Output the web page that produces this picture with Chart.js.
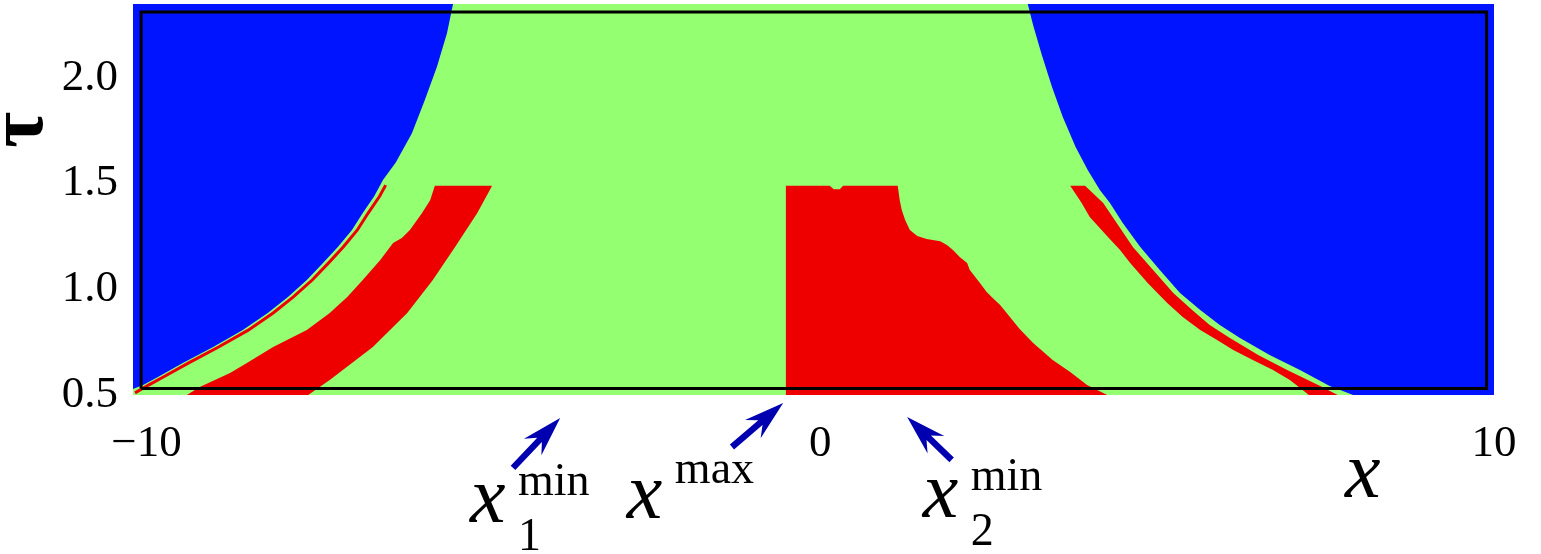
<!DOCTYPE html>
<html>
<head>
<meta charset="utf-8">
<title>Region plot tau vs x</title>
<script src="https://cdn.jsdelivr.net/npm/chart.js@4.4.1/dist/chart.umd.min.js"></script>
<style>
    html, body { margin: 0; padding: 0; background: #fff; overflow: hidden; }
    canvas { display: block; }
</style>
</head>
<body>
<canvas id="regionChart" width="1541" height="554"></canvas>
<script>
// Axis ranges and ticks
const xRange = [-10.2, 10];
const yRange = [0.5, 2.35];
const xTicks = [-10, 0, 10];
const yTicks = [0.5, 1.0, 1.5, 2.0];

// Left blue region: boundary curve, bottom-left to top
const leftBlueX = [-10.20, -10.05, -9.83, -9.46, -9.01, -8.57, -8.20, -7.90, -7.62, -7.38, -7.16, -6.95, -6.79, -6.62, -6.49, -6.30, -6.06, -5.87, -5.69, -5.54, -5.45];
const leftBlueY = [0.528, 0.547, 0.585, 0.651, 0.727, 0.807, 0.888, 0.964, 1.044, 1.124, 1.200, 1.281, 1.361, 1.440, 1.517, 1.600, 1.739, 1.895, 2.052, 2.212, 2.350];

// Right blue region: boundary curve, top to bottom-right
const rightBlueX = [3.08, 3.16, 3.29, 3.44, 3.60, 3.79, 3.97, 4.15, 4.30, 4.49, 4.75, 5.04, 5.34, 5.64, 5.93, 6.23, 6.67, 7.12, 7.56, 7.91];
const rightBlueY = [2.350, 2.250, 2.108, 1.957, 1.815, 1.673, 1.564, 1.470, 1.408, 1.314, 1.200, 1.091, 0.983, 0.902, 0.831, 0.770, 0.689, 0.618, 0.543, 0.500];

// Thin red line along the left blue boundary
const leftLineX = [-10.17, -9.97, -9.75, -9.38, -8.93, -8.49, -8.12, -7.82, -7.54, -7.30, -7.08, -6.87, -6.71, -6.54, -6.45];
const leftLineY = [0.510, 0.547, 0.585, 0.651, 0.727, 0.807, 0.888, 0.964, 1.044, 1.124, 1.200, 1.281, 1.361, 1.440, 1.493];

// Left red band (outline)
const leftBandX = [-9.40, -9.21, -8.76, -8.51, -8.12, -7.62, -7.28, -7.02, -6.79, -6.53, -6.34, -6.21, -6.09, -5.91, -5.79, -5.72, -4.87, -5.09, -5.42, -5.75, -6.13, -6.64, -7.28, -7.60];
const leftBandY = [0.500, 0.538, 0.604, 0.651, 0.727, 0.807, 0.888, 0.964, 1.044, 1.139, 1.219, 1.243, 1.281, 1.361, 1.422, 1.490, 1.490, 1.361, 1.200, 1.044, 0.888, 0.727, 0.571, 0.500];

// Central red block (outline)
const midBandX = [-0.51, -0.51, 0.14, 0.20, 0.29, 0.34, 1.15, 1.18, 1.21, 1.26, 1.33, 1.44, 1.58, 1.67, 1.78, 1.88, 1.97, 2.07, 2.18, 2.22, 2.37, 2.47, 2.56, 2.67, 2.96, 3.16, 3.45, 3.71, 3.96, 4.26];
const midBandY = [0.500, 1.490, 1.490, 1.474, 1.474, 1.490, 1.490, 1.422, 1.375, 1.328, 1.281, 1.252, 1.238, 1.233, 1.228, 1.210, 1.186, 1.153, 1.124, 1.091, 1.030, 0.987, 0.959, 0.926, 0.812, 0.746, 0.666, 0.609, 0.547, 0.500];

// Right red band (outline)
const rightBandX = [7.27, 7.16, 6.97, 6.72, 6.42, 6.13, 5.89, 5.64, 5.38, 5.15, 4.86, 4.60, 4.45, 4.27, 4.00, 3.88, 3.71, 3.93, 4.20, 4.40, 4.64, 4.94, 5.24, 5.52, 5.78, 6.08, 6.50, 6.93, 7.42, 7.71];
const rightBandY = [0.495, 0.524, 0.571, 0.618, 0.666, 0.713, 0.760, 0.807, 0.869, 0.935, 1.030, 1.124, 1.186, 1.247, 1.342, 1.408, 1.490, 1.490, 1.408, 1.314, 1.200, 1.091, 0.983, 0.902, 0.831, 0.770, 0.689, 0.618, 0.543, 0.495];

// Inner frame
const frameX = [-10.08, 9.89, 9.89, -10.08, -10.08];
const frameY = [0.531, 0.531, 2.312, 2.312, 0.531];

// Arrows marking the special points (tail -> tip)
const arrowTailX = [-4.56, -1.31, 1.95];
const arrowTailY = [0.155, 0.254, 0.193];
const arrowTipX = [-3.86, -0.55, 1.29];
const arrowTipY = [0.391, 0.462, 0.396];

// Labels for the arrows
const labelX = [-5.20, -2.87, 1.52];
const labelSup = ['min', 'max', 'min'];
const labelSub = ['1', '', '2'];

const GREEN = '#94ff70';
const BLUE = '#0014ff';
const RED = '#ee0000';
const ARROW = '#0000b0';
const SERIF = '"Liberation Serif", "Times New Roman", serif';

function pts(xs, ys) {
    return xs.map((x, i) => ({ x: x, y: ys[i] }));
}

function region(data, color, order) {
    return {
        data: data,
        showLine: true,
        borderWidth: 0,
        backgroundColor: color,
        fill: 'shape',
        pointRadius: 0,
        order: order
    };
}

const leftBlue = [{ x: xRange[0] - 0.5, y: yRange[1] + 0.2 }, { x: xRange[0] - 0.5, y: leftBlueY[0] }]
    .concat(pts(leftBlueX, leftBlueY), [{ x: leftBlueX[leftBlueX.length - 1], y: yRange[1] + 0.2 }]);
const rightBlue = [{ x: rightBlueX[0], y: yRange[1] + 0.2 }]
    .concat(pts(rightBlueX, rightBlueY), [{ x: rightBlueX[rightBlueX.length - 1], y: yRange[0] - 0.2 },
        { x: xRange[1] + 0.5, y: yRange[0] - 0.2 }, { x: xRange[1] + 0.5, y: yRange[1] + 0.2 }]);

// green plot background
const plotBackground = {
    id: 'plotBackground',
    beforeDatasetsDraw(chart) {
        const { ctx, chartArea: a } = chart;
        ctx.save();
        ctx.fillStyle = GREEN;
        ctx.fillRect(a.left, a.top, a.right - a.left, a.bottom - a.top);
        ctx.restore();
    }
};

function drawArrow(ctx, x0, y0, x1, y1) {
    const ang = Math.atan2(y1 - y0, x1 - x0);
    const len = Math.hypot(x1 - x0, y1 - y0);
    ctx.save();
    ctx.translate(x1, y1);
    ctx.rotate(ang);
    ctx.beginPath();
    ctx.moveTo(0, 0);
    ctx.lineTo(-40, -12);
    ctx.lineTo(-30, -3.2);
    ctx.lineTo(-len, -3.2);
    ctx.lineTo(-len, 3.2);
    ctx.lineTo(-30, 3.2);
    ctx.lineTo(-40, 12);
    ctx.closePath();
    ctx.fill();
    ctx.restore();
}

// arrows, point labels and axis labels
const annotations = {
    id: 'annotations',
    afterDraw(chart) {
        const { ctx, scales: { x, y }, chartArea: a } = chart;
        ctx.save();
        ctx.fillStyle = ARROW;
        arrowTipX.forEach((tx, i) => {
            drawArrow(ctx, x.getPixelForValue(arrowTailX[i]), y.getPixelForValue(arrowTailY[i]),
                x.getPixelForValue(tx), y.getPixelForValue(arrowTipY[i]));
        });

        ctx.fillStyle = '#000';
        ctx.textAlign = 'left';
        ctx.textBaseline = 'alphabetic';
        const drops = [127, 123, 122];
        labelX.forEach((lx, i) => {
            const px = x.getPixelForValue(lx);
            const py = a.bottom + drops[i];
            ctx.font = 'italic 80px ' + SERIF;
            ctx.fillText('x', px, py);
            ctx.font = '46px ' + SERIF;
            const supLift = labelSub[i] ? 27 : 35;
            ctx.fillText(labelSup[i], px + 48, py - supLift);
            if (labelSub[i]) ctx.fillText(labelSub[i], px + 48, py + 28);
        });

        // axis labels
        ctx.font = 'italic 80px ' + SERIF;
        ctx.fillText('x', x.getPixelForValue(7.79), a.bottom + 102);

        ctx.translate(22, y.getPixelForValue(1.755));
        ctx.rotate(-Math.PI / 2);
        ctx.textAlign = 'center';
        ctx.textBaseline = 'middle';
        ctx.font = 'bold 78px ' + SERIF;
        ctx.fillText('\u03c4', 0, 0);
        ctx.restore();
    }
};

const ctx = document.getElementById('regionChart').getContext('2d');
new Chart(ctx, {
    type: 'scatter',
    data: {
        datasets: [
            {
                data: pts(frameX, frameY),
                showLine: true,
                borderColor: '#000',
                borderWidth: 3,
                borderJoinStyle: 'miter',
                fill: false,
                pointRadius: 0,
                order: 0
            },
            {
                data: pts(leftLineX, leftLineY),
                showLine: true,
                borderColor: RED,
                borderWidth: 3,
                fill: false,
                pointRadius: 0,
                order: 1
            },
            region(pts(leftBandX, leftBandY), RED, 2),
            region(pts(midBandX, midBandY), RED, 2),
            region(pts(rightBandX, rightBandY), RED, 2),
            region(leftBlue, BLUE, 3),
            region(rightBlue, BLUE, 3)
        ]
    },
    options: {
        responsive: false,
        animation: false,
        events: [],
        layout: { padding: { left: 0, right: 47, top: 4, bottom: 0 } },
        plugins: {
            legend: { display: false },
            tooltip: { enabled: false }
        },
        scales: {
            x: {
                type: 'linear',
                min: xRange[0],
                max: xRange[1],
                grid: { display: false, drawTicks: false },
                border: { display: false },
                afterBuildTicks: (s) => { s.ticks = xTicks.map(v => ({ value: v })); },
                afterFit: (s) => { s.height = 159; s.paddingLeft = 0; s.paddingRight = 0; },
                ticks: {
                    color: '#000',
                    padding: 22,
                    maxRotation: 0,
                    font: { family: SERIF, size: 45 },
                    callback: (v) => String(v).replace('-', '\u2212')
                }
            },
            y: {
                type: 'linear',
                min: yRange[0],
                max: yRange[1],
                grid: { display: false, drawTicks: false },
                border: { display: false },
                afterBuildTicks: (s) => { s.ticks = yTicks.map(v => ({ value: v })); },
                afterFit: (s) => { s.width = 133; s.paddingTop = 0; s.paddingBottom = 0; },
                ticks: {
                    color: '#000',
                    padding: 15,
                    font: { family: SERIF, size: 45 },
                    callback: (v) => v.toFixed(1)
                }
            }
        }
    },
    plugins: [plotBackground, annotations]
});
</script>
</body>
</html>
